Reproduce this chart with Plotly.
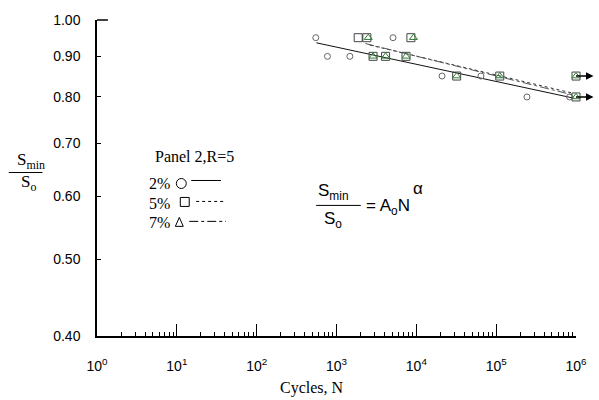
import math
import plotly.graph_objects as go

# ---- data ----
n_2 = [550, 770, 1470, 5100, 21000, 64500, 243000, 830000]
s_2 = [0.95, 0.90, 0.90, 0.95, 0.85, 0.85, 0.80, 0.80]

n_5 = [1870, 2400, 2870, 4120, 7430, 8550, 32000, 111000, 1e6, 1e6]
s_5 = [0.95, 0.95, 0.90, 0.90, 0.90, 0.95, 0.85, 0.85, 0.85, 0.80]

n_7 = [2500, 2870, 4120, 7430, 9200, 32000, 111000, 1e6, 1e6]
s_7 = [0.95, 0.90, 0.90, 0.90, 0.95, 0.85, 0.85, 0.85, 0.80]

fit2_n = [560, 950000]
fit2_s = [0.936, 0.797]
fit5_n = [2600, 950000]
fit5_s = [0.930, 0.808]
fit7_n = [2300, 950000]
fit7_s = [0.934, 0.804]

runout_n = [1e6, 1e6]
runout_s = [0.85, 0.80]

x_tickvals = [1, 10, 100, 1000, 10000, 100000, 1000000]
x_ticktext = ["10<sup>0</sup>", "10<sup>1</sup>", "10<sup>2</sup>", "10<sup>3</sup>",
              "10<sup>4</sup>", "10<sup>5</sup>", "10<sup>6</sup>"]
y_tickvals = [0.40, 0.50, 0.60, 0.70, 0.80, 0.90, 1.00]
y_ticktext = ["0.40", "0.50", "0.60", "0.70", "0.80", "0.90", "1.00"]

# ---- layout geometry ----
W, H = 599, 400
L, R, T, B = 97, 19, 19, 64
PW, PH = W - L - R, H - T - B


def px(x):
    return (x - L) / PW


def py(y):
    return (H - B - y) / PH


SERIF = "Liberation Serif, Times New Roman, serif"
SANS = "Liberation Sans, Arial, sans-serif"
GREEN = "#2f7d32"

fig = go.Figure()

fig.add_trace(go.Scatter(x=fit2_n, y=fit2_s, mode="lines",
                         line=dict(color="#111", width=1), showlegend=False))
fig.add_trace(go.Scatter(x=fit5_n, y=fit5_s, mode="lines",
                         line=dict(color="#333", width=1, dash="dot"), showlegend=False))
fig.add_trace(go.Scatter(x=fit7_n, y=fit7_s, mode="lines",
                         line=dict(color="#555", width=1, dash="dashdot"), showlegend=False))

fig.add_trace(go.Scatter(x=n_2, y=s_2, mode="markers", cliponaxis=False,
                         marker=dict(symbol="circle-open", size=6, color="#666",
                                     line=dict(width=1)), showlegend=False))
fig.add_trace(go.Scatter(x=n_5, y=s_5, mode="markers", cliponaxis=False,
                         marker=dict(symbol="square-open", size=8, color="#444",
                                     line=dict(width=1)), showlegend=False))
fig.add_trace(go.Scatter(x=n_7, y=s_7, mode="markers", cliponaxis=False,
                         marker=dict(symbol="triangle-up-open", size=7, color=GREEN,
                                     line=dict(width=1)), showlegend=False))

annotations = []
# run-out arrows (head drawn at the tail end, pointing right)
for n, s in zip(runout_n, runout_s):
    annotations.append(dict(x=math.log10(n), y=math.log10(s),
                            xref="x", yref="y", ax=19, ay=0, text="",
                            showarrow=True, arrowhead=0, arrowside="start",
                            startarrowhead=2, startarrowsize=1,
                            arrowwidth=1.5, arrowcolor="#000"))


def txt(x, y, t, size, family, xanchor="center"):
    annotations.append(dict(x=px(x), y=py(y), xref="paper", yref="paper", text=t,
                            showarrow=False, xanchor=xanchor, yanchor="middle",
                            font=dict(size=size, family=family, color="#000")))


# y-axis title as a fraction
txt(30, 160, "S<sub>min</sub>", 17, SERIF)
txt(28, 183, "S<sub>o</sub>", 17, SERIF)
# panel label
txt(195, 156, "Panel 2,R=5", 16, SERIF)
# legend labels
txt(147, 183, "2%", 16, SERIF, "left")
txt(147, 203, "5%", 16, SERIF, "left")
txt(147, 222, "7%", 16, SERIF, "left")
# equation
txt(335, 192, "S<sub>min</sub>", 17, SANS)
txt(335, 220, "S<sub>o</sub>", 17, SANS)
txt(366, 207, "= A<sub>o</sub>N", 17, SANS, "left")
txt(421, 188, "α", 17, SANS)
# x-axis title
txt(314, 388, "Cycles, N", 16, SERIF)

shapes = []


def seg(x0, y0, x1, y1, dash="solid", width=1, color="#000"):
    shapes.append(dict(type="line", xref="paper", yref="paper",
                       x0=px(x0), y0=py(y0), x1=px(x1), y1=py(y1),
                       line=dict(color=color, width=width, dash=dash)))


# fraction bars
seg(8, 172, 42, 172)
seg(318, 205, 363, 205)
# long tick at the top of the y axis
seg(97, 19, 108, 19, width=1.5)
# legend symbols and line samples
shapes.append(dict(type="circle", xref="paper", yref="paper",
                   x0=px(177), x1=px(187), y0=py(178), y1=py(188),
                   line=dict(color="#000", width=1)))
seg(192, 180, 222, 180)
shapes.append(dict(type="rect", xref="paper", yref="paper",
                   x0=px(181), x1=px(190), y0=py(197), y1=py(206),
                   line=dict(color="#000", width=1)))
seg(197, 201, 227, 201, dash="dot")
shapes.append(dict(type="path", xref="paper", yref="paper",
                   path=f"M {px(176)} {py(226)} L {px(184)} {py(226)} L {px(180)} {py(217)} Z",
                   line=dict(color="#000", width=1)))
seg(190, 221, 227, 221, dash="dashdot")

minor_x = [m * 10 ** k for k in range(6) for m in range(2, 10)]

fig.update_layout(
    width=W, height=H,
    margin=dict(l=L, r=R, t=T, b=B),
    paper_bgcolor="white", plot_bgcolor="white",
    showlegend=False,
    annotations=annotations,
    shapes=shapes,
    xaxis=dict(type="log", range=[0, 6], showgrid=False, zeroline=False,
               showline=True, linecolor="#000", linewidth=1.5,
               ticks="inside", ticklen=12, tickwidth=1, tickcolor="#000",
               tickvals=x_tickvals, ticktext=x_ticktext,
               ticklabelstandoff=16,
               tickfont=dict(family=SANS, size=14, color="#000"),
               minor=dict(tickvals=minor_x, ticks="inside", ticklen=4,
                          tickwidth=1, tickcolor="#000", showgrid=False)),
    yaxis=dict(type="log", range=[math.log10(0.4), 0], showgrid=False, zeroline=False,
               showline=True, linecolor="#000", linewidth=1.5,
               ticks="inside", ticklen=4, tickwidth=1, tickcolor="#000",
               tickvals=y_tickvals, ticktext=y_ticktext,
               ticklabelstandoff=12,
               tickfont=dict(family=SANS, size=14, color="#000")),
)

fig.write_html("out.html",
               config={"displayModeBar": False},
               post_script="document.body.style.margin='0';"
                           "document.body.style.overflow='hidden';")
